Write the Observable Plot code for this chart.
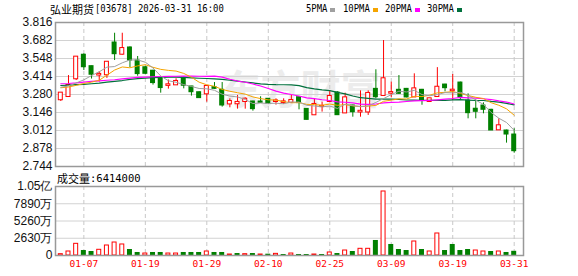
<!DOCTYPE html>
<html><head><meta charset="utf-8">
<script src="https://cdn.jsdelivr.net/npm/d3@7"></script>
<script src="https://cdn.jsdelivr.net/npm/@observablehq/plot@0.6"></script>
<style>
body{margin:0;background:#fff;}
#wrap{position:relative;width:578px;height:276px;overflow:hidden;}
.abs{position:absolute;white-space:nowrap;z-index:2;}
.cjk{font-family:"Noto Sans CJK SC",sans-serif;font-size:11px;line-height:12px;color:#000;}
.mono{font-family:"DejaVu Sans Mono",monospace;font-size:11px;line-height:12px;color:#000;transform:scaleX(0.81);transform-origin:0 0;}
.sq{position:absolute;width:5px;height:4px;top:8px;z-index:2;}
svg{position:absolute;left:0;}
</style></head><body>
<div id="wrap">
  <div class="abs cjk" style="left:50px;top:3px;">弘业期货</div>
  <div class="abs mono" style="left:95px;top:3px;">[03678] 2026-03-31 16:00</div>
  <div id="legend"></div>
  <div class="abs cjk" style="left:57px;top:172px;">成交量</div>
  <div class="abs" style="left:90px;top:172px;font-family:'DejaVu Sans Mono',monospace;font-size:10.5px;line-height:12px;color:#000;">:6414000</div>
</div>
<script>
// ---- data ----
const dates = ["01-02","01-05","01-06","01-07","01-08","01-09","01-12","01-13","01-14","01-15","01-16","01-19","01-20","01-21","01-22","01-23","01-26","01-27","01-28","01-29","01-30","02-02","02-03","02-04","02-05","02-06","02-09","02-10","02-11","02-12","02-13","02-16","02-20","02-23","02-24","02-25","02-26","02-27","03-02","03-03","03-04","03-05","03-06","03-09","03-10","03-11","03-12","03-13","03-16","03-17","03-18","03-19","03-20","03-23","03-24","03-25","03-26","03-27","03-30","03-31"];
const open  = [3.241,3.265,3.397,3.576,3.491,3.425,3.427,3.667,3.580,3.630,3.533,3.483,3.457,3.400,3.348,3.352,3.404,3.340,3.297,3.285,3.335,3.315,3.210,3.211,3.228,3.228,3.228,3.248,3.228,3.221,3.222,3.260,3.173,3.129,3.190,3.228,3.295,3.143,3.198,3.150,3.150,3.322,3.273,3.290,3.315,3.322,3.262,3.315,3.228,3.265,3.354,3.308,3.369,3.235,3.174,3.198,3.166,3.017,3.012,2.982];
const high  = [3.290,3.421,3.558,3.582,3.491,3.450,3.520,3.736,3.736,3.635,3.563,3.490,3.460,3.400,3.388,3.397,3.410,3.340,3.300,3.342,3.369,3.369,3.248,3.273,3.255,3.230,3.263,3.250,3.248,3.248,3.273,3.262,3.175,3.243,3.223,3.307,3.300,3.290,3.200,3.307,3.307,3.464,3.682,3.372,3.421,3.325,3.434,3.318,3.250,3.480,3.356,3.429,3.372,3.285,3.241,3.218,3.170,3.099,3.015,3.025];
const low   = [3.228,3.265,3.384,3.459,3.395,3.372,3.400,3.533,3.573,3.481,3.416,3.430,3.350,3.290,3.320,3.352,3.322,3.268,3.250,3.223,3.318,3.186,3.181,3.171,3.171,3.156,3.215,3.205,3.201,3.206,3.220,3.166,3.090,3.129,3.149,3.228,3.125,3.143,3.111,3.111,3.124,3.248,3.270,3.255,3.280,3.255,3.260,3.200,3.225,3.262,3.300,3.235,3.235,3.099,3.099,3.136,3.012,3.017,2.918,2.843];
const close = [3.290,3.347,3.558,3.483,3.427,3.430,3.520,3.580,3.622,3.533,3.432,3.434,3.365,3.328,3.352,3.377,3.345,3.297,3.253,3.340,3.322,3.198,3.228,3.221,3.245,3.171,3.218,3.210,3.232,3.225,3.235,3.216,3.091,3.206,3.192,3.265,3.126,3.255,3.148,3.155,3.288,3.260,3.397,3.294,3.285,3.258,3.322,3.238,3.248,3.334,3.327,3.312,3.260,3.141,3.151,3.166,3.012,3.047,2.982,2.858];
// volume in 万 shares
const volume = [200,610,1780,760,610,870,1525,1980,1680,915,460,300,460,460,300,300,460,460,460,610,460,460,150,300,200,300,150,200,250,150,300,150,150,150,150,460,300,760,610,1020,1020,2290,9760,1680,915,760,2135,915,610,3355,760,1680,760,915,760,610,610,610,460,641.4];
// moving-average values read from the chart where earlier closes are not shown
const ma5Head  = [3.334,3.344,3.366,3.389];
const ma10Head = [3.330,3.336,3.348,3.362,3.372,3.386,3.424,3.462,3.485];
const ma20Head = [3.360,3.362,3.366,3.372,3.378,3.382,3.386,3.390,3.396,3.402,3.408,3.410,3.412,3.414,3.415,3.416,3.417,3.417,3.416];
const ma30Head = [3.347,3.350,3.353,3.356,3.360,3.364,3.372,3.378,3.384,3.392,3.398,3.402,3.406,3.408,3.410,3.410,3.408,3.404,3.401,3.399,3.397,3.392,3.386,3.380,3.373,3.366,3.359,3.355,3.353];
const priceTicks = [2.744,2.878,3.012,3.146,3.280,3.414,3.548,3.682,3.816];
const volTicks = [0,2630,5260,7890,10520];
const volTickLabels = ["0","2630万","5260万","7890万","1.05亿"];
const xTickDates = ["01-07","01-19","01-29","02-10","02-25","03-09","03-19","03-31"];
const maNames = ["5PMA","10PMA","20PMA","30PMA"];
const maColors = ["#a0a0a0","#f5a400","#ff00ff","#00703c"];
const watermark = "东方财富";

// ---- build ----
const RED = "#ff0000", GREEN = "#008000";
const N = dates.length;
const idx = d3.range(N);
function ma(n, head) { return idx.map(i => i < head.length ? head[i] : d3.mean(close.slice(i - n + 1, i + 1))); }
const m5 = ma(5, ma5Head), m10 = ma(10, ma10Head), m20 = ma(20, ma20Head), m30 = ma(30, ma30Head);
const data = idx.map(i => ({i, o: open[i], h: high[i], l: low[i], c: close[i], v: volume[i],
  up: close[i] >= open[i], vup: i === 0 ? true : close[i] >= close[i - 1],
  m5: m5[i], m10: m10[i], m20: m20[i], m30: m30[i]}));
const tickIdx = xTickDates.map(d => dates.indexOf(d));
const xDomain = [-0.69, 60.21];
const upD = data.filter(d => d.up), dnD = data.filter(d => !d.up);
const vUp = data.filter(d => d.vup), vDn = data.filter(d => !d.vup);
const labelStyle = {fontFamily: "Liberation Sans, Arial, sans-serif", fontSize: 12, fill: "#111"};

const main = Plot.plot({
  width: 578, height: 176,
  marginLeft: 55, marginRight: 55, marginTop: 22, marginBottom: 10,
  x: {domain: xDomain, axis: null},
  y: {domain: [2.744, 3.816], axis: null},
  style: {background: "transparent", overflow: "visible"},
  marks: [
    Plot.text([watermark], {frameAnchor: "middle", text: d => d, fontSize: 40, fill: "#ececec", dx: 11, dy: -3, fontFamily: "Noto Sans CJK SC", fontWeight: "bold"}),
    Plot.ruleY(priceTicks.slice(1, -1), {stroke: "#d2d2d2"}),
    Plot.ruleX(tickIdx, {stroke: "#c8c8c8", strokeDasharray: "4,3"}),
    Plot.text(priceTicks, {y: d => d, frameAnchor: "left", textAnchor: "end", dx: -3, text: d3.format(".3f"), ...labelStyle}),
    Plot.ruleX(data, {x: "i", y1: "l", y2: "h", stroke: d => d.up ? RED : GREEN}),
    Plot.rect(dnD, {x1: d => d.i - 0.325, x2: d => d.i + 0.325, y1: "o", y2: "c", fill: GREEN, insetTop: -0.5, insetBottom: -0.5}),
    Plot.rect(upD, {x1: d => d.i - 0.26, x2: d => d.i + 0.26, y1: "o", y2: "c", fill: "white", stroke: RED, insetTop: -0.5, insetBottom: -0.5}),
    Plot.line(data, {x: "i", y: "m30", stroke: maColors[3], strokeWidth: 1.2}),
    Plot.line(data, {x: "i", y: "m20", stroke: maColors[2], strokeWidth: 1.2}),
    Plot.line(data, {x: "i", y: "m10", stroke: maColors[1], strokeWidth: 1}),
    Plot.line(data, {x: "i", y: "m5", stroke: maColors[0], strokeWidth: 1}),
    Plot.frame({stroke: "#999", strokeWidth: 1.5})
  ]
});
main.style.top = "0px";

const vol = Plot.plot({
  width: 578, height: 100,
  marginLeft: 55, marginRight: 55, marginTop: 10, marginBottom: 21,
  x: {domain: xDomain, axis: null},
  y: {domain: [0, 10520], axis: null},
  style: {background: "transparent", overflow: "visible"},
  marks: [
    Plot.ruleY(volTicks.slice(1, -1), {stroke: "#d2d2d2"}),
    Plot.ruleX(tickIdx, {stroke: "#c8c8c8", strokeDasharray: "4,3"}),
    Plot.text(volTicks, {y: d => d, frameAnchor: "left", textAnchor: "end", dx: -3, text: (d, k) => volTickLabels[k], ...labelStyle}),
    Plot.text(tickIdx, {x: d => d, frameAnchor: "bottom", dy: 11.5, text: i => dates[i], fill: RED, fontFamily: "DejaVu Sans Mono, monospace", fontSize: 9.5}),
    Plot.rect(vDn, {x1: d => d.i - 0.325, x2: d => d.i + 0.325, y1: 0, y2: "v", fill: GREEN}),
    Plot.rect(vUp, {x1: d => d.i - 0.26, x2: d => d.i + 0.26, y1: 0, y2: "v", fill: "white", stroke: RED}),
    Plot.frame({stroke: "#999", strokeWidth: 1.5})
  ]
});
vol.style.top = "176px";

const wrap = document.getElementById("wrap");
wrap.appendChild(main);
wrap.appendChild(vol);

// legend
const legend = document.getElementById("legend");
const legX = [306, 343, 385, 427], sqX = [330, 373, 415, 457];
maNames.forEach((name, k) => {
  const t = document.createElement("div");
  t.className = "abs mono"; t.style.left = legX[k] + "px"; t.style.top = "3px"; t.textContent = name;
  legend.appendChild(t);
  const s = document.createElement("div");
  s.className = "sq"; s.style.left = sqX[k] + "px"; s.style.background = maColors[k];
  legend.appendChild(s);
});
</script>
</body></html>
